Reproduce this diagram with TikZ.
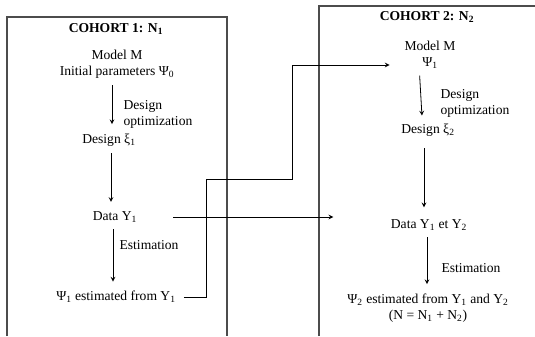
\documentclass[tikz,border=0pt]{standalone}
\usepackage{fontspec}
\setmainfont{Liberation Serif}
\usetikzlibrary{shapes.geometric, arrows}
\tikzstyle{arrow} = [->,>=stealth,black,line width=0.6pt]
\tikzstyle{cohort} = [draw=black!70,line width=0.8pt]
\tikzstyle{txt} = [inner sep=1pt,align=center,font=\fontsize{10.2}{12}\selectfont]

\begin{document}
\begin{tikzpicture}[x=0.75pt,y=-0.75pt]
	\useasboundingbox (0,0) rectangle (535,336);
	% Cohort boxes (open at the bottom / right):
	\draw [cohort] (7,336) -- (7,17) -- (227,17) -- (227,336);
	\draw [cohort] (319,336) -- (319,6) -- (535,6);
	
	% Cohort 1:
	\node [txt] (title1) at (116,29) {\textbf{COHORT 1: N\textsubscript{1}}};
	\node [txt] (model1) at (117,64) {Model M\\Initial parameters Ψ\textsubscript{0}};
	\node [txt] (design1) at (109,140) {Design ξ\textsubscript{1}};
	\node [txt] (data1) at (115,217) {Data Y\textsubscript{1}};
	\node [txt] (psi1) at (116,297) {Ψ\textsubscript{1} estimated from Y\textsubscript{1}};
	\node [txt,anchor=west,align=left] (optim1) at (122,114.5) {Design\\optimization};
	\node [txt,anchor=west] (estim1) at (118,245) {Estimation};
	
	% Cohort 2:
	\node [txt] (title2) at (427,17) {\textbf{COHORT 2: N\textsubscript{2}}};
	\node [txt] (model2) at (430,55) {Model M\\Ψ\textsubscript{1}};
	\node [txt] (design2) at (428,130) {Design ξ\textsubscript{2}};
	\node [txt] (data2) at (429,225) {Data Y\textsubscript{1} et Y\textsubscript{2}};
	\node [txt] (psi2) at (428,308) {Ψ\textsubscript{2} estimated from Y\textsubscript{1} and Y\textsubscript{2}\\(N = N\textsubscript{1} + N\textsubscript{2})};
	\node [txt,anchor=west,align=left] (optim2) at (439,103.5) {Design\\optimization};
	\node [txt,anchor=west] (estim2) at (440,268) {Estimation};
	
	% Arrows inside the cohorts:
	\coordinate (a1) at ([xshift=-3.75pt]model1.south);
	\coordinate (a2) at ([xshift=1.5pt]design1.south);
	\coordinate (a3) at ([xshift=-1.5pt]data1.south);
	\coordinate (a4) at ([xshift=-8pt]model2.south);
	\coordinate (a5) at ([xshift=-3pt]design2.south);
	\coordinate (a6) at ([xshift=-1.5pt]data2.south);
	\draw [arrow,shorten <=4pt,shorten >=6pt] (a1) -- (a1 |- design1.north);
	\draw [arrow,shorten <=4pt,shorten >=6pt] (a2) -- (a2 |- data1.north);
	\draw [arrow,shorten <=4pt,shorten >=6pt] (a3) -- (a3 |- psi1.north);
	\draw [arrow,shorten <=4pt,shorten >=5pt] (a4) -- ([xshift=2.25pt]a4 |- design2.north);
	\draw [arrow,shorten <=8pt,shorten >=8pt] (a5) -- (a5 |- data2.north);
	\draw [arrow,shorten <=4pt,shorten >=6pt] (a6) -- (a6 |- psi2.north);
	
	% Arrows from cohort 1 to cohort 2:
	\coordinate (bend1) at (206,179);
	\coordinate (bend2) at (292,65);
	\draw [arrow,shorten >=10pt] ([xshift=5pt]psi1.east) -| (bend1) -| (bend2) -- (bend2 -| model2.west);
	\draw [arrow,shorten <=26pt,shorten >=42pt] (data1.east) -- (data1.east -| data2.west);
\end{tikzpicture}
\end{document}
